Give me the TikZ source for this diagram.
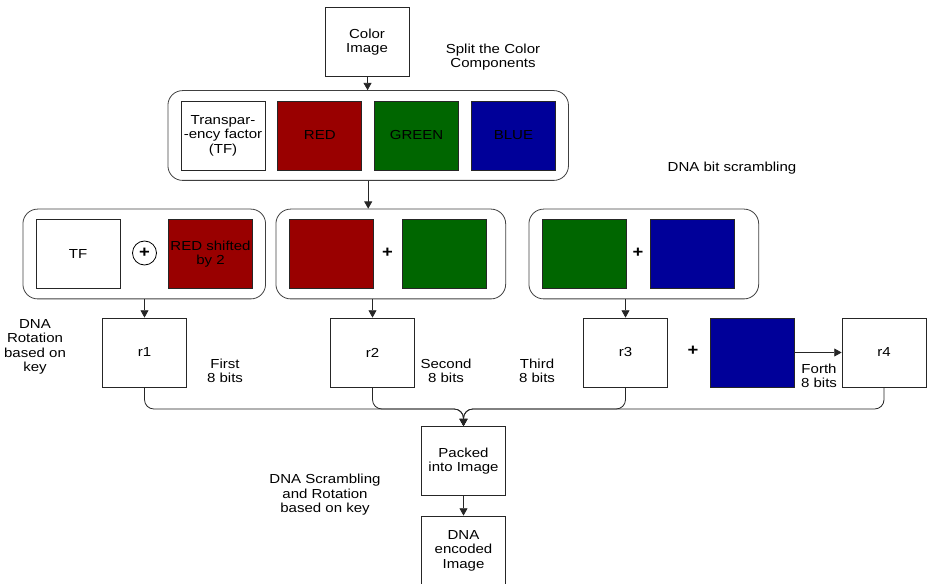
\documentclass[tikz,border=0pt]{standalone}
\usepackage{fontspec}
\setmainfont[FakeStretch=1.15]{Liberation Sans}
\usetikzlibrary{positioning,fit,arrows.meta}
\definecolor{redc}{HTML}{990000}
\definecolor{greenc}{HTML}{006600}
\definecolor{bluec}{HTML}{000099}
\tikzset{
    box/.style = {
        draw = black!85,
        line width = 0.6pt,
        minimum width = 63pt,
        minimum height = 51.75pt,
        align = center,
        inner sep = 1pt,
        },
    redbox/.style = {
        box,
        fill = redc,
        },
    greenbox/.style = {
        box,
        fill = greenc,
        },
    bluebox/.style = {
        box,
        fill = bluec,
        },
    group/.style = {
        draw = black!75,
        line width = 0.6pt,
        rounded corners = 11pt,
        inner xsep = 9.5pt,
        inner ysep = 7.5pt,
        },
    note/.style = {
        align = center,
        },
    plus/.style = {
        font = \fontsize{12pt}{12pt}\selectfont\bfseries,
        inner sep = 1pt,
        },
    arr/.style = {
        draw = black!85,
        line width = 0.6pt,
        -{Triangle[length=5.5pt,width=6pt]},
        },
    bus/.style = {
        arr,
        rounded corners = 7pt,
        },
}

\begin{document}
\begin{tikzpicture}[x=0.75pt,y=-0.75pt,node distance=9pt,
    every node/.style={font=\fontsize{9.8pt}{10.8pt}\selectfont}]
    \useasboundingbox (0,0) rectangle (927,584);

    % input
    \node[box] (img) at (367,42) {Color\\Image};
    \node[note] (splitlbl) at (493,57) {Split the Color\\Components};

    % colour components
    \node[box] (tf) at (223,135.5) {Transpar-\\-ency factor\\(TF)};
    \node[redbox, right=of tf] (red) {RED};
    \node[greenbox, right=of red] (green) {GREEN};
    \node[bluebox, right=of green] (blue) {BLUE};
    \node[group, fit=(tf)(blue)] (g1) {};

    \node[note] (scramblbl) at (732,168) {DNA bit scrambling};

    % DNA bit scrambling
    \node[box] (tf2) at (78,254) {TF};
    \node[redbox] (red2) at (210.5,254) {RED shifted\\by 2};
    \node[draw, circle, line width=0.6pt, minimum size=18pt, inner sep=0pt,
        font=\fontsize{12pt}{12pt}\selectfont\bfseries] (xor) at (144.5,253) {+};
    \node[group, fit=(tf2)(red2)] (g2) {};

    \node[redbox] (red3) at (331,254) {};
    \node[greenbox] (green3) at (444.5,254) {};
    \node[plus] (plus3) at (387.5,253) {+};
    \coordinate (g3r) at (493,254);
    \node[group, fit=(red3)(green3)(g3r)] (g3) {};

    \node[greenbox] (green4) at (584,254) {};
    \node[bluebox] (blue4) at (692,254) {};
    \node[plus] (plus4) at (638,253) {+};
    \coordinate (g4r) at (746,254);
    \node[group, fit=(green4)(blue4)(g4r)] (g4) {};

    % rotation
    \node[note] (rotlbl) at (35,347) {DNA\\Rotation\\based on\\key};
    \node[box] (r1) at (144.5,352.5) {r1};
    \node[box] (r2) at (372.5,352.5) {r2};
    \node[box] (r3) at (625.5,352.5) {r3};
    \node[plus] (plus5) at (693,351) {+};
    \node[bluebox] (blue5) at (752,352.5) {};
    \node[box] (r4) at (884,352.5) {r4};

    \node[note] (first) at (225,371) {First\\8 bits};
    \node[note] (second) at (446,371) {Second\\8 bits};
    \node[note] (third) at (537,371) {Third\\8 bits};
    \node[note] (forth) at (819,376) {Forth\\8 bits};

    % output
    \coordinate (join) at (463.5,409);
    \node[box] (pack) at (463.5,461) {Packed\\into Image};
    \node[box] (enc) at (463.5,550.5) {DNA\\encoded\\Image};
    \node[note] (scrlbl) at (325,495) {DNA Scrambling\\and Rotation\\based on key};

    \draw[arr] (img) -- (g1);
    \draw[arr] (g1.south) -- (g1.south |- g3.north);
    \draw[arr] (r1.north |- g2.south) -- (r1);
    \draw[arr] (r2.north |- g3.south) -- (r2);
    \draw[arr] (r3.north |- g4.south) -- (r3);
    \draw[arr] (blue5) -- (r4);
    \draw[bus] (r1.south) |- (join) -- (pack.north);
    \draw[bus] (r2.south) |- (join) -- (pack.north);
    \draw[bus] (r3.south) |- (join) -- (pack.north);
    \draw[bus] (r4.south) |- (join) -- (pack.north);
    \draw[arr] (pack) -- (enc);
\end{tikzpicture}
\end{document}
